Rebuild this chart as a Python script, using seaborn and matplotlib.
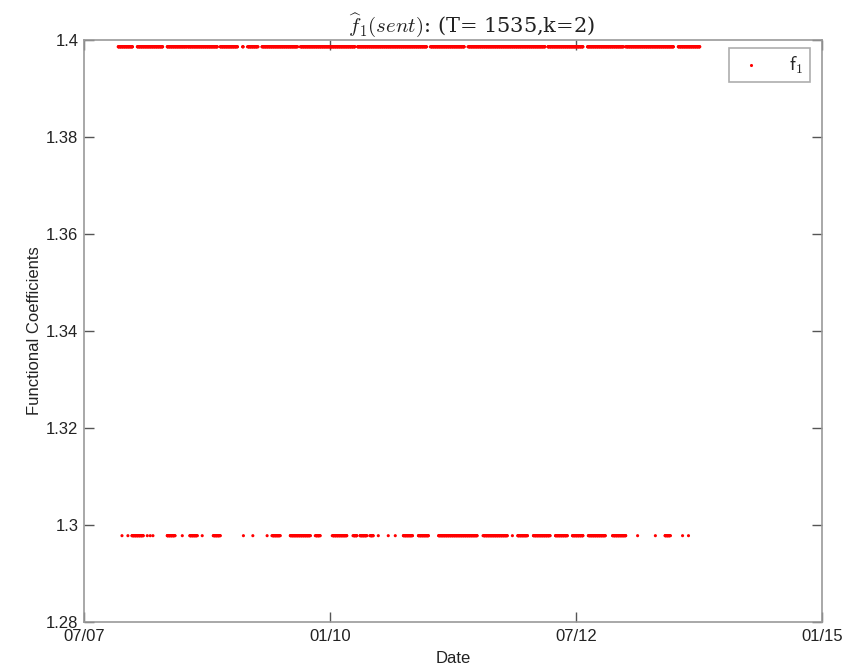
import pandas as pd
import numpy as np
import matplotlib
matplotlib.use("Agg")
import matplotlib.pyplot as plt
import matplotlib.dates as mdates
import seaborn as sns

# Dates (runs of trading days) where the estimate sits on each level
upper_level = 1.3986
lower_level = 1.2978

upper_runs = [
    ("2007-11-05", "2007-12-30"), ("2008-01-15", "2008-04-19"),
    ("2008-05-04", "2008-07-17"), ("2008-07-21", "2008-11-07"),
    ("2008-11-18", "2009-01-21"), ("2009-02-09", "2009-02-11"),
    ("2009-02-27", "2009-04-07"), ("2009-04-22", "2009-09-01"),
    ("2009-09-11", "2010-04-02"), ("2010-04-10", "2010-12-26"),
    ("2011-01-07", "2011-05-15"), ("2011-05-27", "2012-03-08"),
    ("2012-03-19", "2012-07-28"), ("2012-08-12", "2012-12-25"),
    ("2013-01-02", "2013-06-28"), ("2013-07-16", "2013-10-06"),
]

lower_runs = [
    ("2007-11-19", "2007-11-19"), ("2007-12-11", "2007-12-11"),
    ("2007-12-26", "2008-02-06"), ("2008-02-21", "2008-02-21"),
    ("2008-03-03", "2008-03-03"), ("2008-03-13", "2008-03-13"),
    ("2008-05-05", "2008-06-03"), ("2008-06-30", "2008-06-30"),
    ("2008-07-28", "2008-08-25"), ("2008-09-12", "2008-09-12"),
    ("2008-10-23", "2008-11-18"), ("2009-02-12", "2009-02-12"),
    ("2009-03-19", "2009-03-19"), ("2009-05-11", "2009-05-11"),
    ("2009-05-29", "2009-06-29"), ("2009-08-05", "2009-10-19"),
    ("2009-11-06", "2009-11-24"), ("2010-01-08", "2010-03-03"),
    ("2010-03-26", "2010-04-09"), ("2010-04-21", "2010-05-17"),
    ("2010-05-28", "2010-06-09"), ("2010-06-28", "2010-06-28"),
    ("2010-08-04", "2010-08-04"), ("2010-08-30", "2010-08-30"),
    ("2010-09-29", "2010-11-02"), ("2010-11-24", "2010-12-31"),
    ("2011-02-07", "2011-06-30"), ("2011-07-22", "2011-10-20"),
    ("2011-11-08", "2011-11-08"), ("2011-11-28", "2012-01-03"),
    ("2012-01-25", "2012-03-27"), ("2012-04-16", "2012-05-30"),
    ("2012-06-18", "2012-07-27"), ("2012-08-16", "2012-10-18"),
    ("2012-11-14", "2013-01-02"), ("2013-02-15", "2013-02-15"),
    ("2013-04-22", "2013-04-22"), ("2013-05-28", "2013-06-17"),
    ("2013-08-01", "2013-08-01"), ("2013-08-23", "2013-08-23"),
]

x_ticks = ["2007-07-01", "2010-01-01", "2012-07-01", "2015-01-01"]
y_ticks = [1.28, 1.30, 1.32, 1.34, 1.36, 1.38, 1.40]


def runs_to_frame(runs, level):
    """Expand each run into its trading days at the given level"""
    days = [pd.bdate_range(a, b) for a, b in runs]
    dates = pd.DatetimeIndex(np.concatenate([d.values for d in days]))
    return pd.DataFrame({"date": dates, "coef": level})


df = pd.concat([runs_to_frame(upper_runs, upper_level),
                runs_to_frame(lower_runs, lower_level)], ignore_index=True)
df["series"] = "f1"

sns.set_style("white")
plt.rcParams["font.family"] = ["Liberation Sans", "DejaVu Sans"]
plt.rcParams["mathtext.fontset"] = "cm"

fig = plt.figure(figsize=(8.53, 6.71), dpi=100)
ax = fig.add_axes([0.0985, 0.073, 0.8652, 0.8674])

sns.scatterplot(data=df, x="date", y="coef", hue="series", palette=["red"],
                s=5, linewidth=0, marker="o", ax=ax, legend=False)

ax.set_xlim(pd.Timestamp(x_ticks[0]), pd.Timestamp(x_ticks[-1]))
ax.set_ylim(y_ticks[0], y_ticks[-1])
ax.set_xticks([pd.Timestamp(t) for t in x_ticks])
ax.xaxis.set_major_formatter(mdates.DateFormatter("%m/%y"))
ax.set_yticks(y_ticks)
ax.set_yticklabels([f"{v:g}" for v in y_ticks])

axis_grey = "#999999"
for sp in ax.spines.values():
    sp.set_color(axis_grey)
    sp.set_linewidth(1.2)
ax.tick_params(direction="in", length=7, width=1, color="#555555",
               labelsize=12, labelcolor="#222222",
               top=True, right=True, bottom=True, left=True)
ax.tick_params(axis="x", pad=5)
ax.tick_params(axis="y", pad=4)

ax.set_xlabel("Date", fontsize=12, color="#222222", labelpad=5)
ax.set_ylabel("Functional Coefficients", fontsize=12, color="#222222", labelpad=3)
ax.set_title(r"$\widehat{f}_1(sent)$: (T= 1535,k=2)", fontsize=15,
             family="serif", color="#222222", pad=6, x=0.525)

# MATLAB-style legend box
h = ax.scatter([], [], s=5, color="red", linewidth=0)
leg = ax.legend([h], [r"$\mathsf{f}_{\mathsf{1}}$"], loc="upper right", fontsize=14,
                frameon=True, fancybox=False, handletextpad=1.2,
                handlelength=1.5, borderpad=0.35, borderaxespad=0,
                bbox_to_anchor=(0.984, 0.987))
leg.get_frame().set_edgecolor(axis_grey)
leg.get_frame().set_linewidth(1.2)

fig.savefig("out.png", dpi=100)
